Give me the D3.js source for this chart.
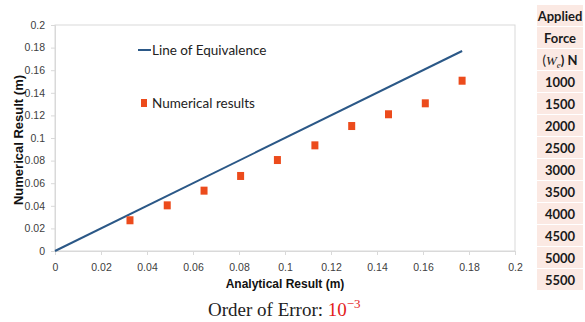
<!DOCTYPE html>
<html>
<head>
<meta charset="utf-8">
<script src="https://cdn.jsdelivr.net/npm/d3@7"></script>
<style>
  body { margin: 0; background: #fff; }
  svg { display: block; }
</style>
</head>
<body>
<svg id="chart" width="585" height="322"></svg>
<script>
// values
const analytical = [0.0326, 0.0488, 0.0648, 0.0807, 0.0967, 0.113, 0.129, 0.145, 0.161, 0.177];
const numerical = [0.0272, 0.0404, 0.0534, 0.0664, 0.0805, 0.0935, 0.1106, 0.121, 0.1307, 0.1507];
const equivalence = [0, 0.177];
const forces = [1000, 1500, 2000, 2500, 3000, 3500, 4000, 4500, 5000, 5500];
const xTicks = [0, 0.02, 0.04, 0.06, 0.08, 0.1, 0.12, 0.14, 0.16, 0.18, 0.2];
const yTicks = [0, 0.02, 0.04, 0.06, 0.08, 0.1, 0.12, 0.14, 0.16, 0.18, 0.2];

const svg = d3.select('#chart');
const marginLeft = 55, marginTop = 25, innerWidth = 460, innerHeight = 226;

const x = d3.scaleLinear().domain([0, 0.2]).range([marginLeft, marginLeft + innerWidth]);
const y = d3.scaleLinear().domain([0, 0.2]).range([marginTop + innerHeight, marginTop]);

// plot border
svg.append('rect')
  .attr('x', marginLeft).attr('y', marginTop)
  .attr('width', innerWidth).attr('height', innerHeight)
  .attr('fill', 'none').attr('stroke', '#d9d9d9');

const tickFont = 'Liberation Sans, Arial, sans-serif';
const calibriLike = 'Lato, sans-serif';

// axes
const gx = svg.append('g')
  .attr('transform', `translate(0,${marginTop + innerHeight})`)
  .call(d3.axisBottom(x).tickValues(xTicks).tickFormat(d3.format('')).tickSize(4).tickPadding(9));
const gy = svg.append('g')
  .attr('transform', `translate(${marginLeft},0)`)
  .call(d3.axisLeft(y).tickValues(yTicks).tickFormat(d3.format('')).tickSize(4).tickPadding(6));
[gx, gy].forEach(g => {
  g.select('.domain').attr('stroke', '#d9d9d9');
  g.selectAll('.tick line').attr('stroke', '#d9d9d9');
  g.selectAll('.tick text')
    .attr('fill', '#404040')
    .style('font-family', tickFont)
    .style('font-size', '10.5px');
});

// line of equivalence
svg.append('path')
  .datum(equivalence)
  .attr('d', d3.line().x(d => x(d)).y(d => y(d)))
  .attr('fill', 'none')
  .attr('stroke', '#2b5887')
  .attr('stroke-width', 2);

// numerical results
svg.append('g').selectAll('rect')
  .data(analytical)
  .join('rect')
  .attr('x', (d) => x(d) - 3.5)
  .attr('y', (d, i) => y(numerical[i]) - 4)
  .attr('width', 7)
  .attr('height', 8)
  .attr('fill', '#ec4b1c');

// legend
svg.append('line')
  .attr('x1', 138).attr('x2', 151).attr('y1', 50).attr('y2', 50)
  .attr('stroke', '#2b5887').attr('stroke-width', 2);
svg.append('text')
  .attr('x', 152).attr('y', 55)
  .style('font-family', calibriLike).style('font-size', '13.5px')
  .attr('fill', '#222')
  .text('Line of Equivalence');
svg.append('rect')
  .attr('x', 141).attr('y', 99).attr('width', 6).attr('height', 8)
  .attr('fill', '#ec4b1c');
svg.append('text')
  .attr('x', 152).attr('y', 108)
  .style('font-family', calibriLike).style('font-size', '13.5px')
  .attr('fill', '#222')
  .text('Numerical results');

// axis titles
svg.append('text')
  .attr('text-anchor', 'middle')
  .attr('transform', `translate(23,${marginTop + innerHeight / 2 + 2}) rotate(-90)`)
  .style('font-family', tickFont).style('font-size', '13px').style('font-weight', 'bold')
  .attr('fill', '#111')
  .text('Numerical Result (m)');
svg.append('text')
  .attr('text-anchor', 'middle')
  .attr('x', 285).attr('y', 288)
  .style('font-family', tickFont).style('font-size', '12px').style('font-weight', 'bold')
  .attr('fill', '#111')
  .text('Analytical Result (m)');

// order of error caption
const cap = svg.append('text')
  .attr('x', 208).attr('y', 316)
  .style('font-family', 'Liberation Serif, Times New Roman, serif').style('font-size', '19px')
  .attr('fill', '#222');
cap.append('tspan').text('Order of Error: ');
cap.append('tspan').attr('fill', '#e31b1b').text('10');
cap.append('tspan').attr('fill', '#e31b1b').attr('dy', -8).style('font-size', '13px').text('\u22123');

// applied force table
const tx = 537, tw = 46, rowH = 22;
const rows = d3.scaleBand().domain(d3.range(13)).range([5, 5 + 13 * rowH]);
svg.append('g').selectAll('rect')
  .data(d3.range(13))
  .join('rect')
  .attr('x', tx).attr('y', d => rows(d))
  .attr('width', tw).attr('height', rowH - 1)
  .attr('fill', '#fbe9e3');
const cell = (i) => svg.append('text')
  .attr('x', tx + tw / 2).attr('y', rows(i) + rowH / 2 + 5)
  .attr('text-anchor', 'middle')
  .style('font-family', calibriLike).style('font-size', '13px').style('font-weight', 'bold')
  .attr('fill', '#1a1a1a');
cell(0).text('Applied');
cell(1).text('Force');
const we = cell(2);
we.append('tspan').style('font-weight', 'normal').text('(');
we.append('tspan').style('font-family', 'Liberation Serif, serif').style('font-style', 'italic').style('font-weight', 'normal').text('W');
we.append('tspan').style('font-family', 'Liberation Serif, serif').style('font-style', 'italic').style('font-weight', 'normal').style('font-size', '9px').attr('dy', 3).text('e');
we.append('tspan').attr('dy', -3).text(') N');
forces.forEach((f, i) => cell(i + 3).text(f));
</script>
</body>
</html>
